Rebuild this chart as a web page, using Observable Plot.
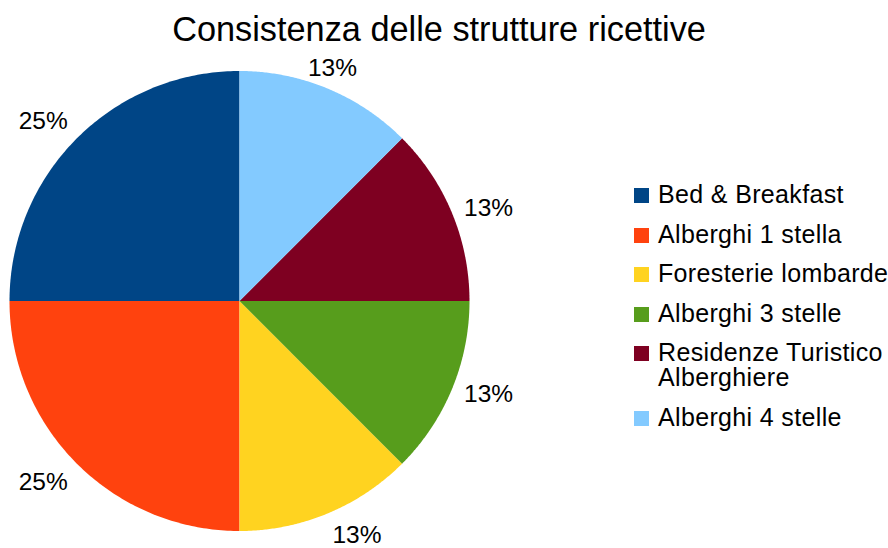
<!DOCTYPE html>
<html>
<head>
<meta charset="utf-8">
<script src="https://cdn.jsdelivr.net/npm/d3@7"></script>
<script src="https://cdn.jsdelivr.net/npm/@observablehq/plot@0.6"></script>
<style>
  html, body { margin: 0; padding: 0; background: #fff; }
  #wrap { position: relative; width: 888px; height: 548px; overflow: hidden; font-family: "Liberation Sans", Arial, sans-serif; }
  #title { position: absolute; left: 0; top: 3px; width: 878px; height: 53px; text-align: center; font-size: 34.3px; line-height: 53px; color: #000; white-space: nowrap; }
  #chart { position: absolute; left: 0; top: 56px; }
  #legend { position: absolute; left: 634px; top: 182px; width: 254px; font-size: 25px; letter-spacing: 0.35px; color: #000; white-space: nowrap; }
  .row { display: flex; align-items: flex-start; margin-bottom: 14.5px; line-height: 25px; }
  .sw { width: 15px; height: 15px; margin-top: 6px; margin-right: 9px; flex: none; }
  .tx { white-space: nowrap; }
</style>
</head>
<body>
<div id="wrap">
  <div id="title"></div>
  <div id="chart"></div>
  <div id="legend"></div>
</div>
<script>
// ---- data ----
const title = "Consistenza delle strutture ricettive";
const categories = ["Bed & Breakfast", "Alberghi 1 stella", "Foresterie lombarde", "Alberghi 3 stelle", "Residenze Turistico Alberghiere", "Alberghi 4 stelle"];
const legendLabels = ["Bed & Breakfast", "Alberghi 1 stella", "Foresterie lombarde", "Alberghi 3 stelle", "Residenze Turistico\nAlberghiere", "Alberghi 4 stelle"];
const values = [2, 2, 1, 1, 1, 1];
const colors = ["#004586", "#ff420e", "#ffd320", "#579d1c", "#7e0021", "#83caff"];

// ---- layout ----
const W = 620, H = 492;
const CX = 239, CY = 244.5, R = 230, LABEL_GAP = 13;

document.getElementById("title").textContent = title;

const total = d3.sum(values);
const table = categories.map((c, i) => ({cat: c, value: values[i]}));
// counterclockwise from 12 o'clock
const arcs = d3.pie().sort(null).value(d => d.value).startAngle(0).endAngle(-2 * Math.PI)(table);

// polygon points per slice (unit circle, y downward)
const pts = [];
arcs.forEach(a => {
  const cat = a.data.cat;
  pts.push({cat, x: 0, y: 0});
  const n = 120;
  for (let k = 0; k <= n; k++) {
    const t = a.startAngle + (a.endAngle - a.startAngle) * k / n;
    pts.push({cat, x: Math.sin(t), y: -Math.cos(t)});
  }
});

// label placement (LibreOffice-style alignment)
function align(phi) {
  phi = Math.round(((phi % 360) + 360) % 360 * 1e6) / 1e6;
  if (phi === 0) return "C";
  if (phi <= 22.5) return "R";
  if (phi < 67.5) return "RT";
  if (phi < 112.5) return "T";
  if (phi <= 157.5) return "LT";
  if (phi <= 202.5) return "L";
  if (phi < 247.5) return "LB";
  if (phi < 292.5) return "B";
  if (phi < 337.5) return "RB";
  return "R";
}
const rr = (R + LABEL_GAP) / R;
const labelMarks = arcs.map(a => {
  const mid = (a.startAngle + a.endAngle) / 2;
  const phi = 90 - mid * 180 / Math.PI;
  const al = align(phi);
  const textAnchor = al.includes("R") ? "start" : al.includes("L") ? "end" : "middle";
  const lineAnchor = al.includes("T") ? "bottom" : al.includes("B") ? "top" : "middle";
  const d = [{x: Math.sin(mid) * rr, y: -Math.cos(mid) * rr, label: Math.round(a.data.value / total * 100) + "%"}];
  return Plot.text(d, {x: "x", y: "y", text: "label", textAnchor, lineAnchor, fontSize: 24.5, fill: "#000"});
});

const plot = Plot.plot({
  width: W, height: H,
  margin: 0,
  style: {fontFamily: '"Liberation Sans", Arial, sans-serif', background: "transparent", overflow: "visible"},
  x: {domain: [-CX / R, (W - CX) / R], range: [0, W], axis: null},
  y: {domain: [-CY / R, (H - CY) / R], range: [0, H], axis: null},
  color: {domain: categories, range: colors},
  marks: [
    Plot.line(pts, {x: "x", y: "y", z: "cat", fill: "cat", stroke: null, curve: "linear-closed"}),
    ...labelMarks
  ]
});
document.getElementById("chart").appendChild(plot);

// legend
const leg = document.getElementById("legend");
legendLabels.forEach((lab, i) => {
  const row = document.createElement("div");
  row.className = "row";
  const sw = document.createElement("div");
  sw.className = "sw";
  sw.style.background = colors[i];
  const tx = document.createElement("div");
  tx.className = "tx";
  tx.innerHTML = lab.split("\n").map(s => s.replace(/&/g, "&amp;")).join("<br>");
  row.appendChild(sw);
  row.appendChild(tx);
  leg.appendChild(row);
});
</script>
</body>
</html>
